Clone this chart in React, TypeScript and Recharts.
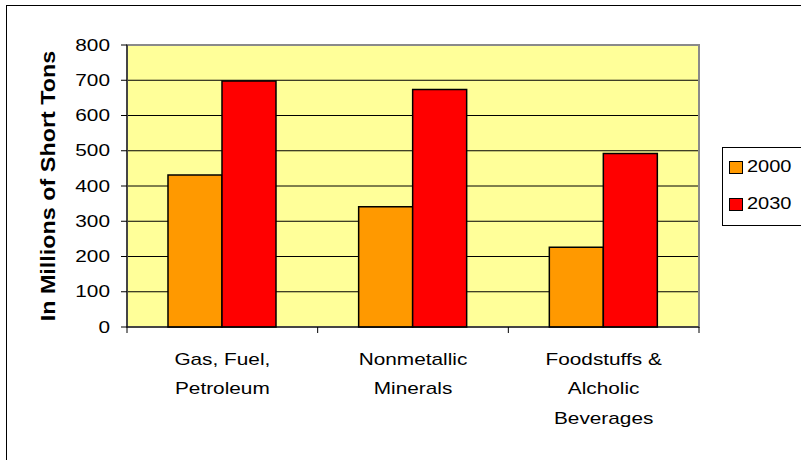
import React from "react";
import { BarChart, Bar, XAxis, YAxis, CartesianGrid, Legend, ReferenceArea } from "recharts";

const categories = ["Gas, Fuel, Petroleum", "Nonmetallic Minerals", "Foodstuffs & Alcholic Beverages"];
const categoryLines = [["Gas, Fuel,", "Petroleum"], ["Nonmetallic", "Minerals"], ["Foodstuffs &", "Alcholic", "Beverages"]];
const series2000 = [431, 341, 226];
const series2030 = [698, 674, 492];
const yTicks = [0, 100, 200, 300, 400, 500, 600, 700, 800];
const seriesNames = ["2000", "2030"];
const seriesColors = ["#FF9900", "#FF0000"];
const yTitle = "In Millions of Short Tons";

const data = categories.map((c, i) => ({ name: c, v2000: series2000[i], v2030: series2030[i] }));

const FONT = "'Liberation Sans', Arial, sans-serif";
const STRETCH = 1.3;

const XTick = (props: any) => {
  const { x, y, payload, index } = props;
  const idx = categories.indexOf(payload.value);
  const lines = categoryLines[idx >= 0 ? idx : index] || [String(payload.value)];
  const off = payload.offset || 95.3;
  const isLast = idx === categories.length - 1;
  return (
    <g>
      <line x1={x - off} y1={y} x2={x - off} y2={y + 6} stroke="#000" strokeWidth={1} />
      {isLast && <line x1={x + off} y1={y} x2={x + off} y2={y + 6} stroke="#000" strokeWidth={1} />}
      <g transform={`translate(${x},${y})`}>
        <text transform={`scale(${STRETCH},1)`} textAnchor="middle" fontFamily={FONT} fontSize={16} fill="#000">
          {lines.map((l, i) => (
            <tspan key={i} x={0} y={38 + i * 29.5}>{l}</tspan>
          ))}
        </text>
      </g>
    </g>
  );
};

const YTick = (props: any) => {
  const { x, y, payload } = props;
  return (
    <g transform={`translate(${x},${y})`}>
      <text transform={`scale(${STRETCH},1)`} textAnchor="end" dy="0.355em" fontFamily={FONT} fontSize={16} fill="#000">
        {payload.value}
      </text>
    </g>
  );
};

const YTitle = (props: any) => {
  const { viewBox } = props;
  const cx = viewBox.x + 20.5;
  const cy = viewBox.y + viewBox.height / 2;
  return (
    <text
      transform={`translate(${cx},${cy}) rotate(-90) scale(1.46,1.3)`}
      textAnchor="middle"
      dominantBaseline="central"
      fontFamily={FONT}
      fontSize={16}
      fontWeight="bold"
      fill="#000"
    >
      {yTitle}
    </text>
  );
};

const LegendContent = () => (
  <div
    style={{
      border: "1px solid #000",
      width: 80,
      height: 79,
      boxSizing: "border-box",
      background: "#fff",
      fontFamily: FONT,
      fontSize: 16,
      position: "relative",
    }}
  >
    {seriesNames.map((n, i) => (
      <div key={n} style={{ position: "absolute", left: 6, top: 12 + i * 37, height: 14, display: "flex", alignItems: "center" }}>
        <span
          style={{
            display: "inline-block",
            width: 14,
            height: 13,
            boxSizing: "border-box",
            background: seriesColors[i],
            border: "1px solid #000",
            marginRight: 4,
          }}
        />
        <span style={{ color: "#000", display: "inline-block", transform: `scaleX(${STRETCH - 0.05})`, transformOrigin: "left center", lineHeight: "14px" }}>{n}</span>
      </div>
    ))}
  </div>
);

export default function App() {
  return (
    <div style={{ position: "absolute", left: 0, top: 0, width: 801, height: 460, background: "#fff", overflow: "hidden" }}>
      <div style={{ position: "absolute", left: 6, top: 5, width: 820, height: 480, border: "1px solid #000" }} />
      <div style={{ position: "absolute", left: 0, top: 0 }}>
        <BarChart
          width={801}
          height={460}
          data={data}
          margin={{ top: 45, right: 102, left: 27, bottom: 0 }}
          barGap={0}
          barCategoryGap="21.5%"
        >
          <CartesianGrid vertical={false} horizontal={true} stroke="#000" fill="#FFFF99" fillOpacity={1} />
          <ReferenceArea y1={0} y2={800} fill="none" stroke="#8a8a8a" strokeWidth={2} ifOverflow="visible" />
          <XAxis
            dataKey="name"
            height={133}
            axisLine={{ stroke: "#000" }}
            tickLine={false}
            tickSize={0}
            tickMargin={0}
            tick={<XTick />}
            interval={0}
          />
          <YAxis
            width={100}
            domain={[0, 800]}
            ticks={yTicks}
            interval={0}
            axisLine={{ stroke: "#000" }}
            tickLine={{ stroke: "#000" }}
            tickSize={6}
            tickMargin={11}
            tick={<YTick />}
            label={{ value: yTitle, position: "insideLeft", content: <YTitle /> }}
          />
          <Legend
            layout="horizontal"
            align="center"
            verticalAlign="middle"
            content={<LegendContent />}
            wrapperStyle={{ position: "absolute", left: 722, top: 147, width: 80, height: 79 }}
          />
          <Bar dataKey="v2000" name="2000" fill={seriesColors[0]} stroke="#000" strokeWidth={1.5} isAnimationActive={false} />
          <Bar dataKey="v2030" name="2030" fill={seriesColors[1]} stroke="#000" strokeWidth={1.5} isAnimationActive={false} />
        </BarChart>
      </div>
    </div>
  );
}
